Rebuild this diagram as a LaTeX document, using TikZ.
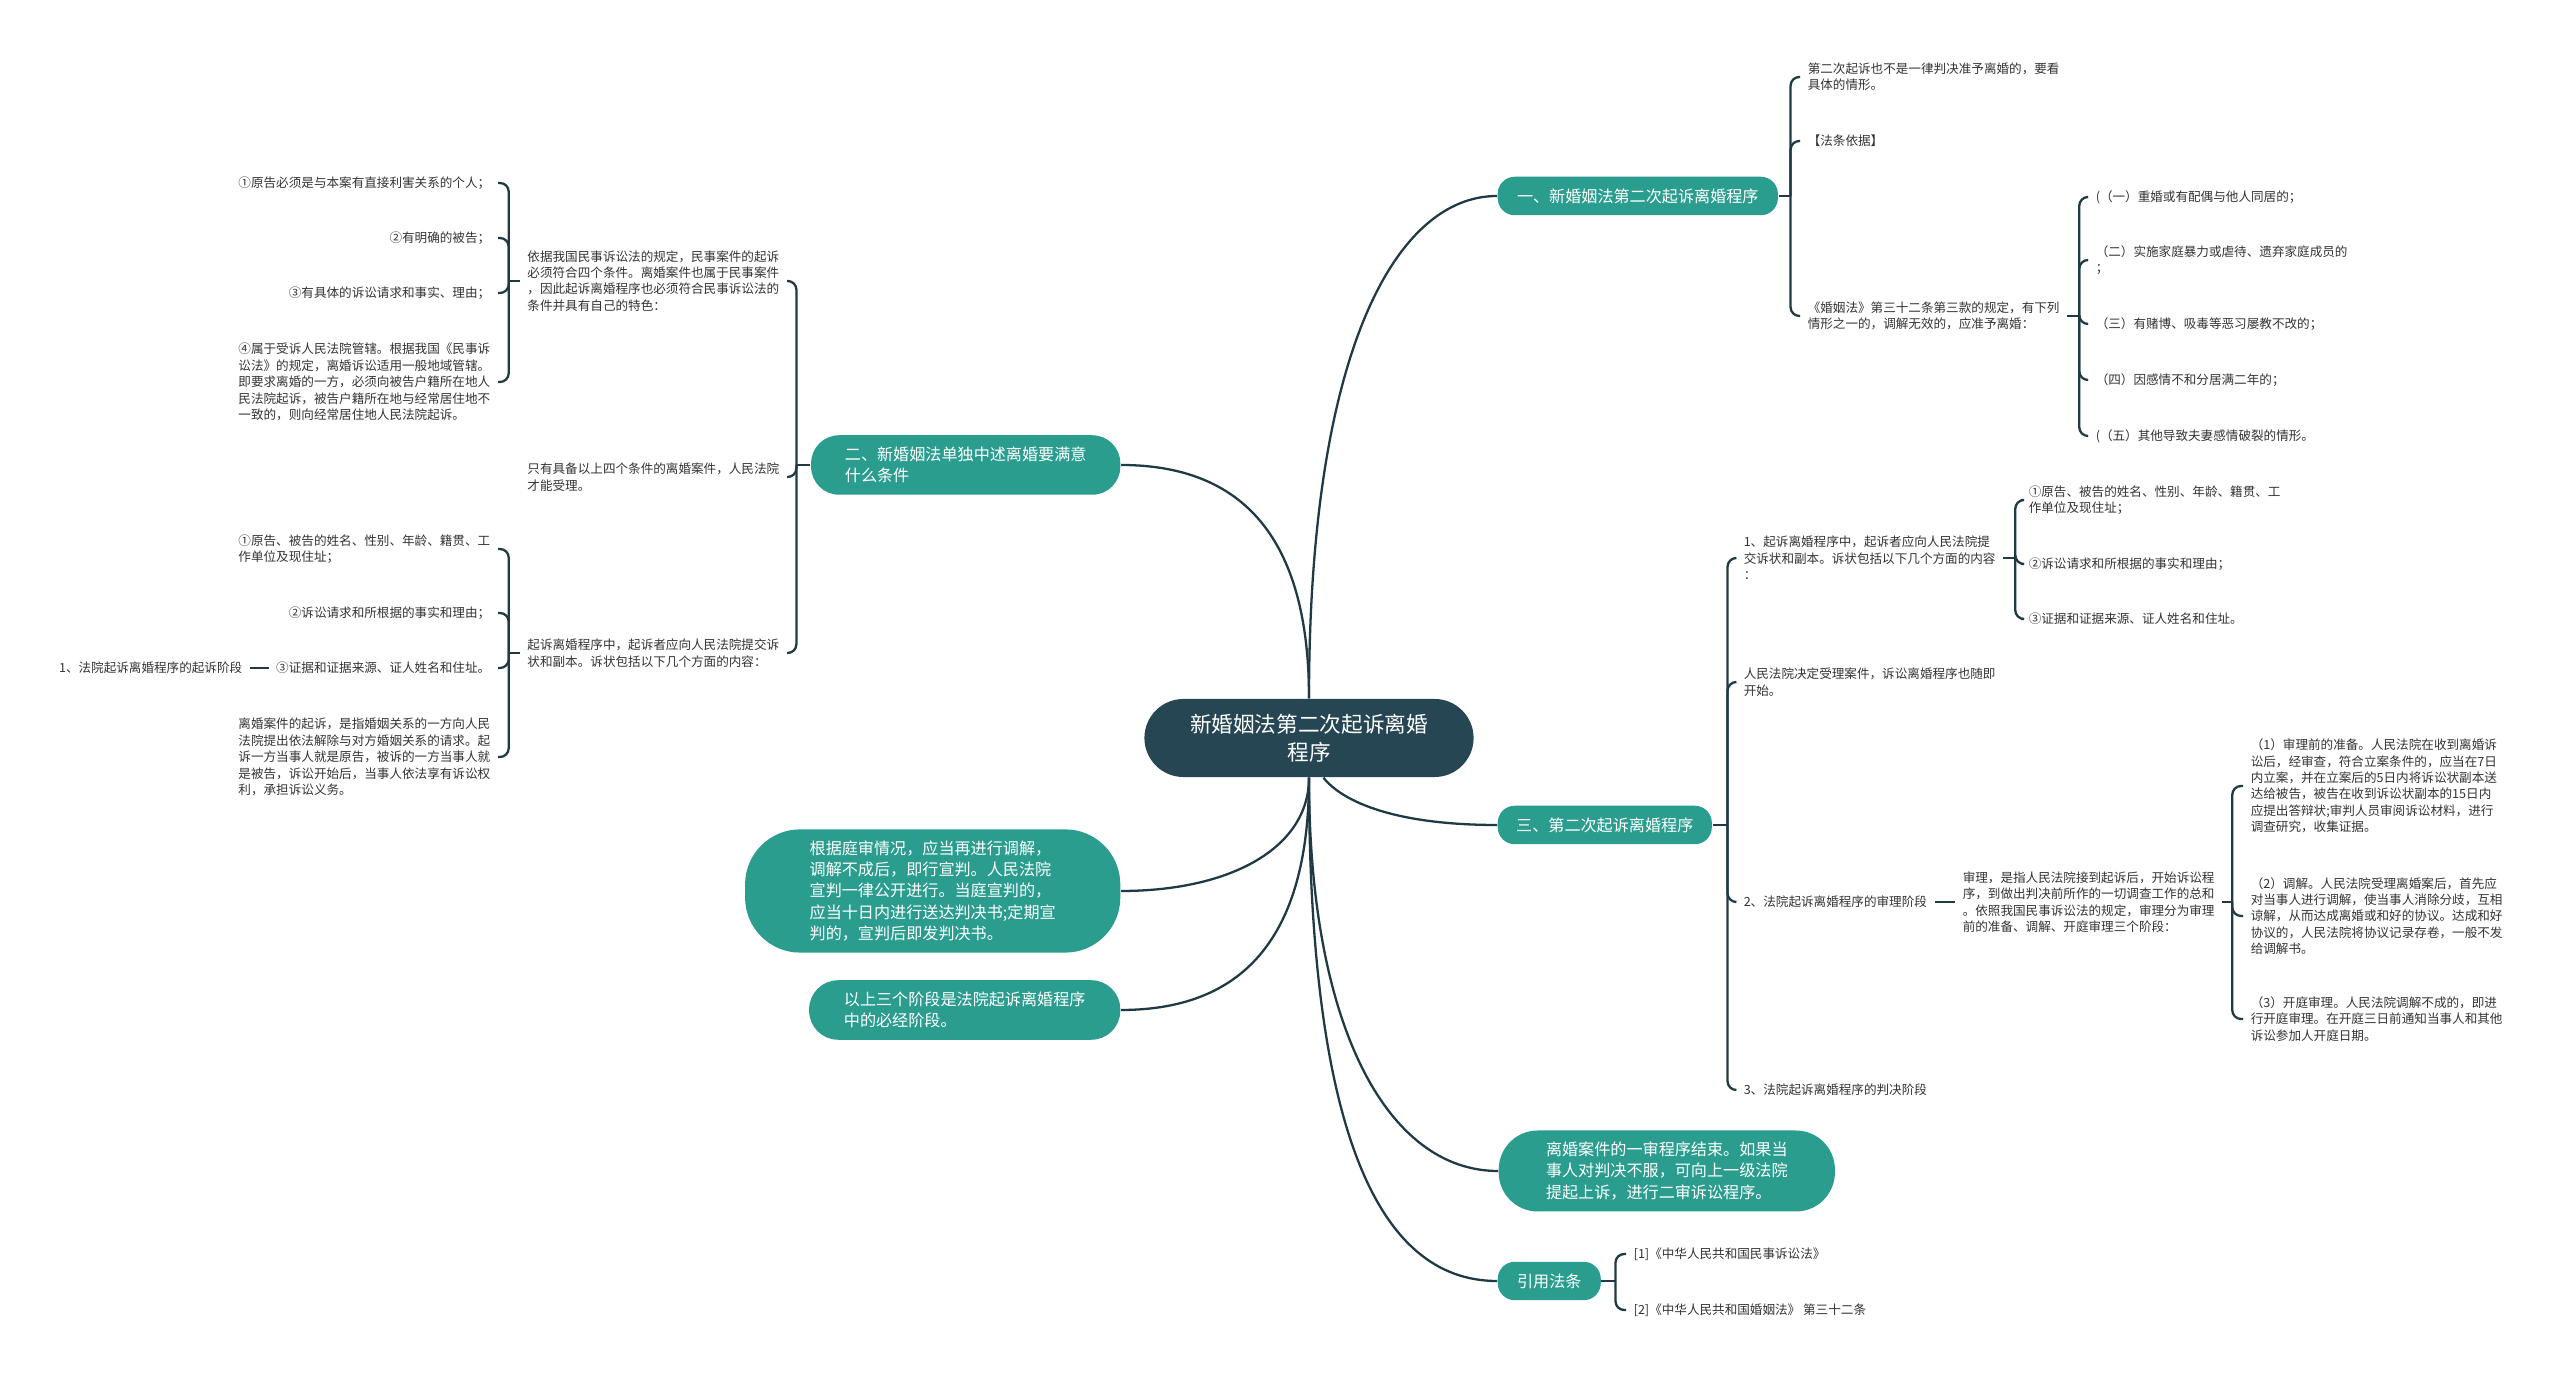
\documentclass[tikz,border=0pt]{standalone}
\usepackage{fontspec}
\setmainfont{Noto Sans CJK SC}
\usetikzlibrary{positioning}
\definecolor{rootc}{HTML}{264653}
\definecolor{tealc}{HTML}{2A9D8F}
\definecolor{wirec}{HTML}{1F3A45}
\definecolor{inkc}{HTML}{333333}
\newcommand\fsmall{\fontsize{3.58pt}{4.67pt}\selectfont}
\newcommand\fmid{\fontsize{4.58pt}{6pt}\selectfont}
\newcommand\fbig{\fontsize{6.15pt}{8.05pt}\selectfont}

\begin{document}
\begin{tikzpicture}[x=0.01cm,y=-0.01cm,
  root/.style={fill=rootc,text=white,font=\fbig,align=center,rounded corners=0.39cm,minimum width=3.29cm,minimum height=0.78cm},
  topic/.style={fill=tealc,text=white,font=\fmid,align=left,rounded corners=0.17cm,minimum height=0.35cm},
  note/.style={fill=tealc,text=white,font=\fmid,align=left},
  leaf/.style={text=inkc,font=\fsmall,align=left,inner xsep=2pt,inner ysep=1pt},
  wire/.style={draw=wirec,line width=0.65pt},
  brace/.style={wire,rounded corners=2.5pt}]
\useasboundingbox (0,0) rectangle (2560,1377);
\fill[white] (0,0) rectangle (2560,1377);

% centre and main topics
\node[root] (c) at (1309,738) {新婚姻法第二次起诉离婚\\程序};
\node[topic,anchor=west,minimum width=2.8cm] (b1) at (1497,196) {一、新婚姻法第二次起诉离婚程序};
\node[topic,anchor=east,minimum width=3.09cm,minimum height=0.56cm,rounded corners=0.28cm] (b2) at (1121,465) {二、新婚姻法单独中述离婚要满意\\什么条件};
\node[topic,anchor=west,minimum width=2.14cm] (b3) at (1497,825) {三、第二次起诉离婚程序};
\node[topic,anchor=west,minimum width=1.03cm] (b4) at (1497,1281) {引用法条};
\node[note,anchor=east,minimum width=3.75cm,minimum height=1.23cm,rounded corners=0.55cm] (n1) at (1121,891) {根据庭审情况，应当再进行调解，\\调解不成后，即行宣判。人民法院\\宣判一律公开进行。当庭宣判的，\\应当十日内进行送达判决书;定期宣\\判的，宣判后即发判决书。};
\node[note,anchor=east,minimum width=3.11cm,minimum height=0.58cm,rounded corners=0.29cm] (n2) at (1121,1010) {以上三个阶段是法院起诉离婚程序\\中的必经阶段。};
\node[note,anchor=west,minimum width=3.36cm,minimum height=0.79cm,rounded corners=0.39cm] (n3) at (1498,1171) {离婚案件的一审程序结束。如果当\\事人对判决不服，可向上一级法院\\提起上诉，进行二审诉讼程序。};

\draw[wire] (c.north) .. controls +(0,-350) and +(-100,0) .. (b1.west);
\draw[wire] (c.north) .. controls +(0,-150) and +(130,0) .. (b2.east);
\draw[wire] (c.-70) .. controls +(20,25) and +(-100,0) .. (b3.west);
\draw[wire] (c.south) .. controls +(0,70) and +(110,0) .. (n1.east);
\draw[wire] (c.south) .. controls +(0,150) and +(130,0) .. (n2.east);
\draw[wire] (c.south) .. controls +(0,250) and +(-110,0) .. (n3.west);
\draw[wire] (c.south) .. controls +(0,350) and +(-120,0) .. (b4.west);

% topic one
\node[leaf,anchor=west] (t11) at (1800,77) {第二次起诉也不是一律判决准予离婚的，要看\\具体的情形。};
\node[leaf,anchor=west] (t12) at (1800,141) {【法条依据】};
\node[leaf,anchor=west] (t13) at (1800,316) {《婚姻法》第三十二条第三款的规定，有下列\\情形之一的，调解无效的，应准予离婚：};
\draw[wire] (b1.east) -- ++(12,0);
\foreach \t in {t11,t12,t13} \draw[brace] (b1.east) ++(12,0) |- (\t.west);

\node[leaf,anchor=west] (t131) at (2088,197) {(（一）重婚或有配偶与他人同居的；};
\node[leaf,anchor=west] (t132) at (2088,260) {（二）实施家庭暴力或虐待、遗弃家庭成员的\\；};
\node[leaf,anchor=west] (t133) at (2088,324) {（三）有赌博、吸毒等恶习屡教不改的；};
\node[leaf,anchor=west] (t134) at (2088,380) {（四）因感情不和分居满二年的；};
\node[leaf,anchor=west] (t135) at (2088,436) {(（五）其他导致夫妻感情破裂的情形。};
\draw[wire] (t13.east) -- ++(12,0);
\foreach \t in {t131,t132,t133,t134,t135} \draw[brace] (t13.east) ++(12,0) |- (\t.west);

% topic two
\node[leaf,anchor=east] (t21) at (787,281) {依据我国民事诉讼法的规定，民事案件的起诉\\必须符合四个条件。离婚案件也属于民事案件\\，因此起诉离婚程序也必须符合民事诉讼法的\\条件并具有自己的特色：};
\node[leaf,anchor=east] (t22) at (787,477) {只有具备以上四个条件的离婚案件，人民法院\\才能受理。};
\node[leaf,anchor=east] (t23) at (787,653) {起诉离婚程序中，起诉者应向人民法院提交诉\\状和副本。诉状包括以下几个方面的内容：};
\draw[wire] (b2.west) -- ++(-14,0);
\foreach \t in {t21,t22,t23} \draw[brace] (b2.west) ++(-14,0) |- (\t.east);

\node[leaf,anchor=east] (t211) at (498,183) {①原告必须是与本案有直接利害关系的个人；};
\node[leaf,anchor=east] (t212) at (498,238) {②有明确的被告；};
\node[leaf,anchor=east] (t213) at (498,293) {③有具体的诉讼请求和事实、理由；};
\node[leaf,anchor=east] (t214) at (498,382) {④属于受诉人民法院管辖。根据我国《民事诉\\讼法》的规定，离婚诉讼适用一般地域管辖。\\即要求离婚的一方，必须向被告户籍所在地人\\民法院起诉，被告户籍所在地与经常居住地不\\一致的，则向经常居住地人民法院起诉。};
\draw[wire] (t21.west) -- ++(-11,0);
\foreach \t in {t211,t212,t213,t214} \draw[brace] (t21.west) ++(-11,0) |- (\t.east);

\node[leaf,anchor=east] (t231) at (498,549) {①原告、被告的姓名、性别、年龄、籍贯、工\\作单位及现住址；};
\node[leaf,anchor=east] (t232) at (498,613) {②诉讼请求和所根据的事实和理由；};
\node[leaf,anchor=east] (t233) at (498,668) {③证据和证据来源、证人姓名和住址。};
\node[leaf,anchor=east] (t234) at (498,757) {离婚案件的起诉，是指婚姻关系的一方向人民\\法院提出依法解除与对方婚姻关系的请求。起\\诉一方当事人就是原告，被诉的一方当事人就\\是被告，诉讼开始后，当事人依法享有诉讼权\\利，承担诉讼义务。};
\draw[wire] (t23.west) -- ++(-11,0);
\foreach \t in {t231,t232,t233,t234} \draw[brace] (t23.west) ++(-11,0) |- (\t.east);

\node[leaf,anchor=east] (t2331) at (250,668) {1、法院起诉离婚程序的起诉阶段};
\draw[wire] (t2331.east) -- (t233.west);

% topic three
\node[leaf,anchor=west] (t31) at (1736,558) {1、起诉离婚程序中，起诉者应向人民法院提\\交诉状和副本。诉状包括以下几个方面的内容\\：};
\node[leaf,anchor=west] (t32) at (1736,682) {人民法院决定受理案件，诉讼离婚程序也随即\\开始。};
\node[leaf,anchor=west] (t33) at (1736,902) {2、法院起诉离婚程序的审理阶段};
\node[leaf,anchor=west] (t34) at (1736,1090) {3、法院起诉离婚程序的判决阶段};
\draw[wire] (b3.east) -- ++(15,0);
\foreach \t in {t31,t32,t33,t34} \draw[brace] (b3.east) ++(15,0) |- (\t.west);

\node[leaf,anchor=west] (t311) at (2021,500) {①原告、被告的姓名、性别、年龄、籍贯、工\\作单位及现住址；};
\node[leaf,anchor=west] (t312) at (2021,564) {②诉讼请求和所根据的事实和理由；};
\node[leaf,anchor=west] (t313) at (2021,619) {③证据和证据来源、证人姓名和住址。};
\draw[wire] (t31.east) -- ++(12,0);
\foreach \t in {t311,t312,t313} \draw[brace] (t31.east) ++(12,0) |- (\t.west);

\node[leaf,anchor=west] (t331) at (1955,902) {审理，是指人民法院接到起诉后，开始诉讼程\\序，到做出判决前所作的一切调查工作的总和\\。依照我国民事诉讼法的规定，审理分为审理\\前的准备、调解、开庭审理三个阶段：};
\draw[wire] (t33.east) -- (t331.west);

\node[leaf,anchor=west] (t3311) at (2243,786) {（1）审理前的准备。人民法院在收到离婚诉\\讼后，经审查，符合立案条件的，应当在7日\\内立案，并在立案后的5日内将诉讼状副本送\\达给被告，被告在收到诉讼状副本的15日内\\应提出答辩状;审判人员审阅诉讼材料，进行\\调查研究，收集证据。};
\node[leaf,anchor=west] (t3312) at (2243,916) {（2）调解。人民法院受理离婚案后，首先应\\对当事人进行调解，使当事人消除分歧，互相\\谅解，从而达成离婚或和好的协议。达成和好\\协议的，人民法院将协议记录存卷，一般不发\\给调解书。};
\node[leaf,anchor=west] (t3313) at (2243,1019) {（3）开庭审理。人民法院调解不成的，即进\\行开庭审理。在开庭三日前通知当事人和其他\\诉讼参加人开庭日期。};
\draw[wire] (t331.east) -- ++(10,0);
\foreach \t in {t3311,t3312,t3313} \draw[brace] (t331.east) ++(10,0) |- (\t.west);

% sources
\node[leaf,anchor=west] (t41) at (1626,1254) {[1]《中华人民共和国民事诉讼法》};
\node[leaf,anchor=west] (t42) at (1626,1310) {[2]《中华人民共和国婚姻法》 第三十二条};
\draw[wire] (b4.east) -- ++(14,0);
\foreach \t in {t41,t42} \draw[brace] (b4.east) ++(14,0) |- (\t.west);
\end{tikzpicture}
\end{document}
